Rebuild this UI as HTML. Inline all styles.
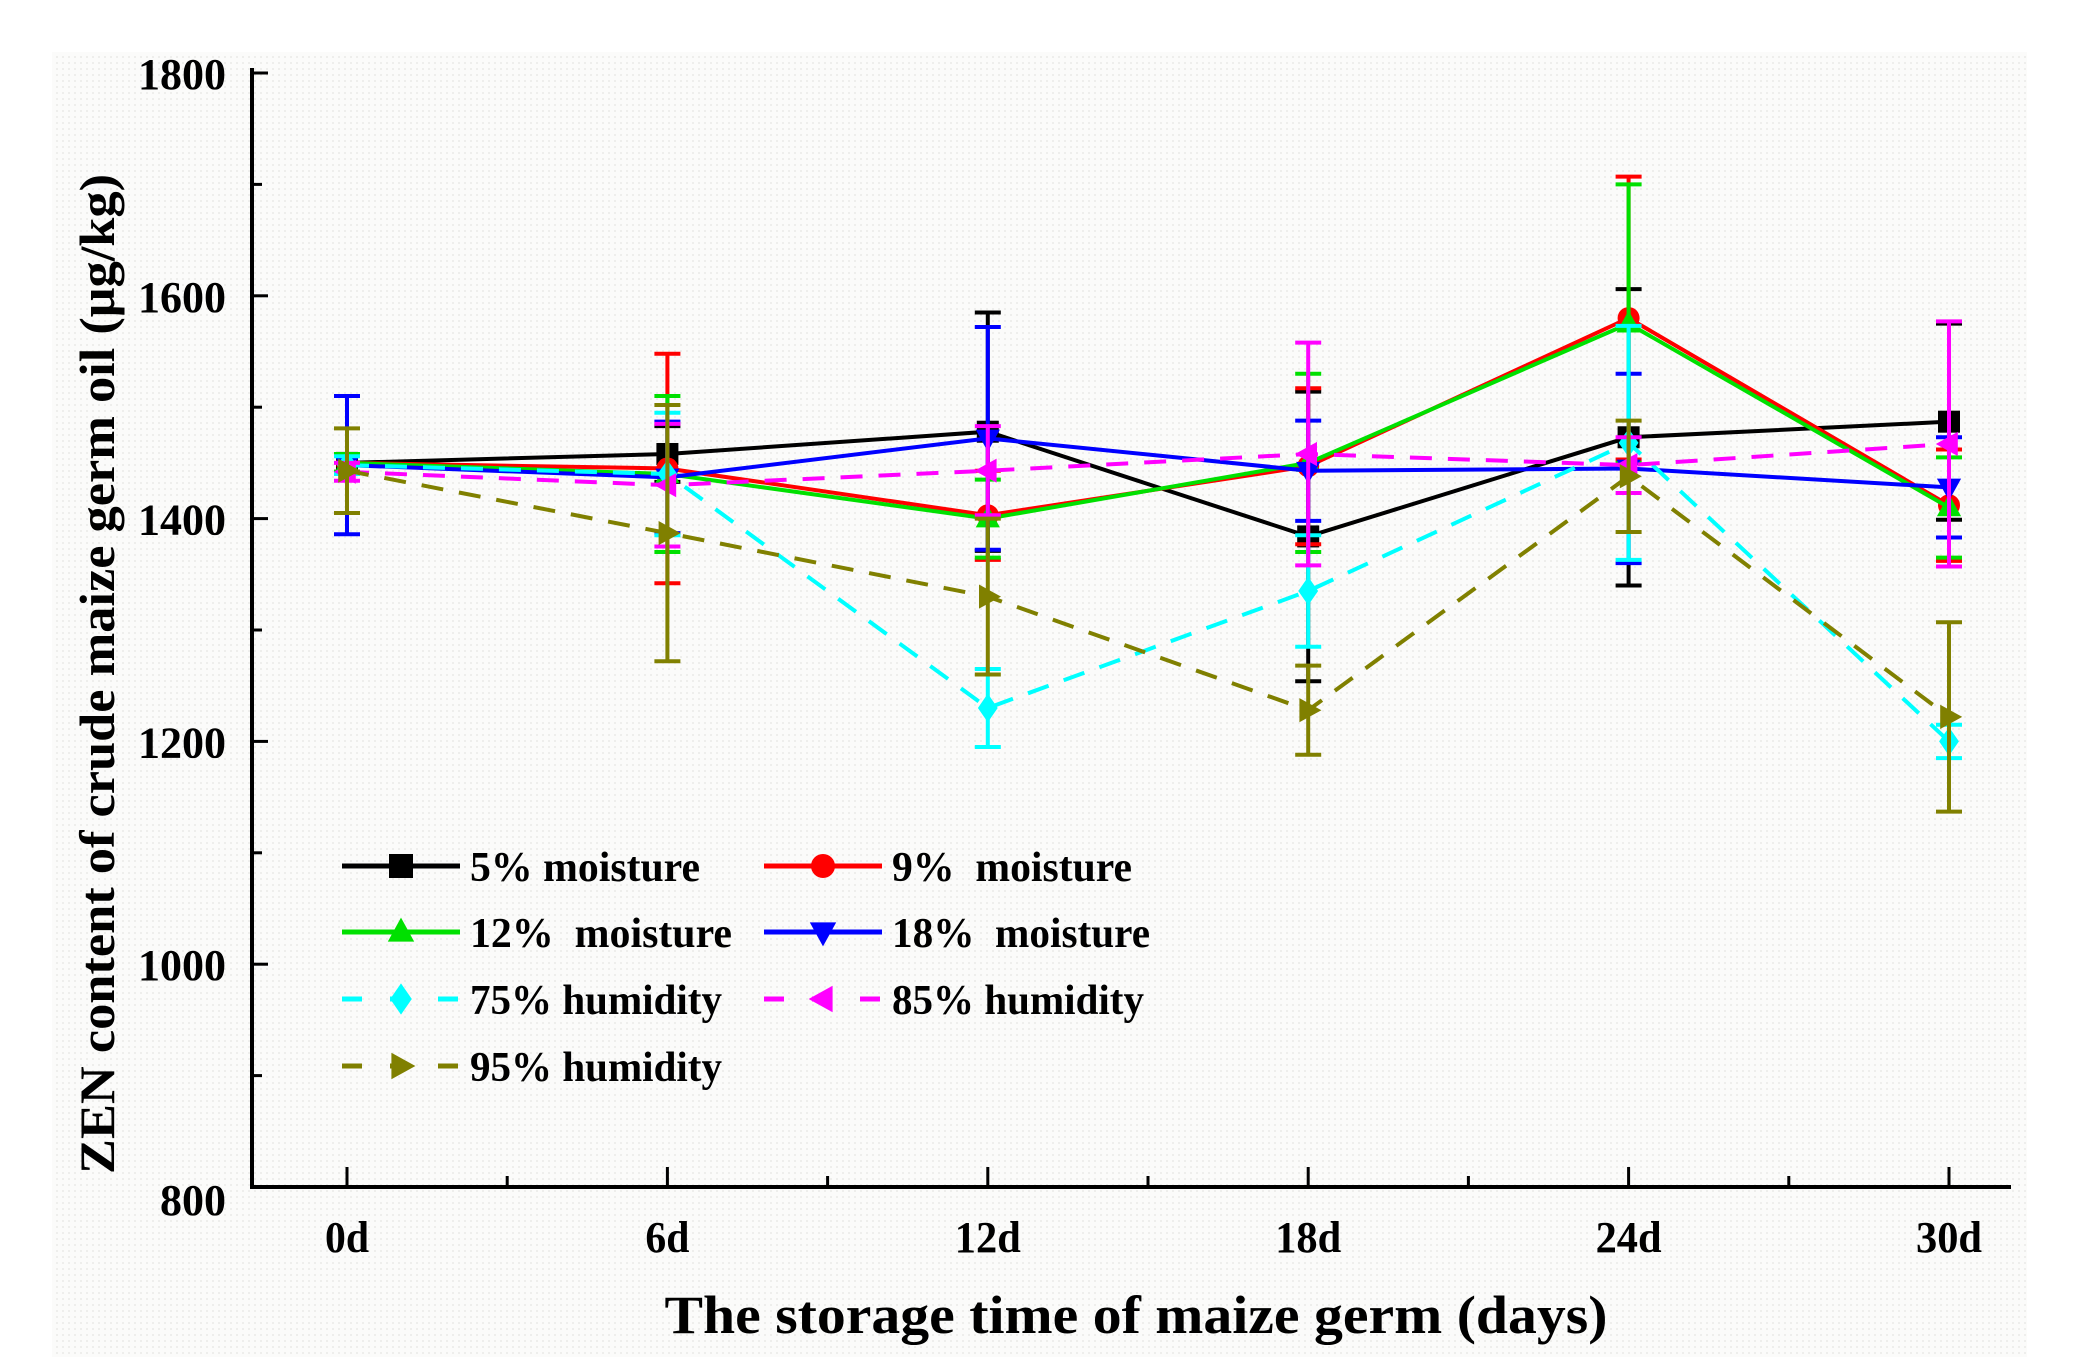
<!DOCTYPE html>
<html><head><meta charset="utf-8">
<style>
html,body{margin:0;padding:0;background:#fff;}
svg{display:block;}
text{font-family:"Liberation Serif",serif;font-weight:bold;fill:#000;}
</style></head>
<body>
<svg id="chart" width="2073" height="1368" viewBox="0 0 2073 1368" xmlns="http://www.w3.org/2000/svg">
<defs>
<pattern id="dots" width="6" height="6" patternUnits="userSpaceOnUse">
<rect width="6" height="6" fill="#fbfbfa"/><circle cx="3" cy="3" r="0.9" fill="#e6e6e3"/>
</pattern>
</defs>
<rect x="52" y="52" width="1975" height="1305" fill="url(#dots)"/>
<g id="axes"></g>
<g id="series"></g>
<g id="legend"></g>
<text transform="translate(114,674) rotate(-90)" text-anchor="middle" font-size="50" textLength="1000" lengthAdjust="spacingAndGlyphs">ZEN content of crude maize germ oil (μg/kg)</text>
<text x="1136" y="1333" text-anchor="middle" font-size="54" textLength="943" lengthAdjust="spacingAndGlyphs">The storage time of maize germ (days)</text>
</svg>
<script>
const categories = ["0d","6d","12d","18d","24d","30d"];
const yTicks = [800,1000,1200,1400,1600,1800];
const seriesNames = ["5% moisture","9%  moisture","12%  moisture","18%  moisture","75% humidity","85% humidity","95% humidity"];
const s5 = [1450,1458,1478,1384,1473,1487];
const e5 = [8,25,107,130,133,88];
const s9 = [1450,1445,1403,1447,1580,1412];
const e9 = [8,103,40,70,127,50];
const s12 = [1450,1440,1400,1450,1575,1410];
const e12 = [8,70,35,80,125,45];
const s18 = [1448,1437,1472,1443,1445,1428];
const e18 = [62,50,100,45,85,45];
const s75 = [1448,1440,1230,1335,1468,1200];
const e75 = [8,55,35,50,105,15];
const s85 = [1442,1430,1443,1458,1448,1467];
const e85 = [8,55,40,100,25,110];
const s95 = [1443,1387,1330,1228,1438,1222];
const e95 = [38,115,70,40,50,85];

const NS="http://www.w3.org/2000/svg";
const X0=347, DX=320.4, Y0=1187, YTOP=73;
const xS=i=>X0+i*DX;
const yS=v=>Y0-(v-800)/1000*(Y0-YTOP);
function mk(tag,attrs,parent){const e=document.createElementNS(NS,tag);for(const k in attrs)e.setAttribute(k,attrs[k]);parent.appendChild(e);return e;}
const axes=document.getElementById('axes');
const ax=mk('path',{d:`M252,${YTOP-5} L252,${Y0} L2011,${Y0}`,fill:'none',stroke:'#000','stroke-width':4},axes);


yTicks.forEach(v=>{
  const y=yS(v);
  const t=mk('line',{x1:252,x2:268,y1:y,y2:y,stroke:'#000','stroke-width':3},axes);
  
  
  const str=String(v);
  const l=mk('text',{x:226,y:y+16+(v===800?12:0),'text-anchor':'end','font-size':44,textLength:str.length*22,lengthAdjust:'spacingAndGlyphs'},axes);l.textContent=str;
  
  
  if(v<1800){const ym=yS(v+100);const m=mk('line',{x1:252,x2:262,y1:ym,y2:ym,stroke:'#000','stroke-width':3},axes);
  
  }
});
categories.forEach((c,i)=>{
  const x=xS(i);
  const t=mk('line',{x1:x,x2:x,y1:Y0,y2:Y0-20,stroke:'#000','stroke-width':3},axes);
  
  
  const l=mk('text',{x:x,y:1252,'text-anchor':'middle','font-size':44,textLength:c.length*22,lengthAdjust:'spacingAndGlyphs'},axes);l.textContent=c;
  
  
  if(i<categories.length-1){const xm=x+DX/2;const m=mk('line',{x1:xm,x2:xm,y1:Y0,y2:Y0-11,stroke:'#000','stroke-width':3},axes);
  
  }
});
const colors=["#000000","#ff0000","#00e000","#0000ff","#00ffff","#ff00ff","#808000"];
const dashed=[false,false,false,false,true,true,true];
const markers=["square","circle","up","down","diamond","left","right"];
const vals=[s5,s9,s12,s18,s75,s85,s95];
const errs=[e5,e9,e12,e18,e75,e85,e95];
function marker(type,x,y,c,g,r){
  let e;
  if(type==="square")e=mk('rect',{x:x-r,y:y-r,width:2*r,height:2*r,fill:c},g);
  else if(type==="circle")e=mk('circle',{cx:x,cy:y,r:r,fill:c},g);
  else{let p;
    if(type==="up")p=[[x,y-r*1.2],[x-r*1.1,y+r*0.8],[x+r*1.1,y+r*0.8]];
    if(type==="down")p=[[x,y+r*1.2],[x-r*1.1,y-r*0.8],[x+r*1.1,y-r*0.8]];
    if(type==="diamond")p=[[x,y-r*1.3],[x+r*0.9,y],[x,y+r*1.3],[x-r*0.9,y]];
    if(type==="left")p=[[x-r*1.2,y],[x+r*0.8,y-r*1.1],[x+r*0.8,y+r*1.1]];
    if(type==="right")p=[[x+r*1.2,y],[x-r*0.8,y-r*1.1],[x-r*0.8,y+r*1.1]];
    e=mk('polygon',{points:p.map(q=>q.join(',')).join(' '),fill:c},g);}
  return e;
}
const sg=document.getElementById('series');
vals.forEach((v,s)=>{
  const g=mk('g',{},sg);
  
  
  v.forEach((val,i)=>{
    const x=xS(i),e=errs[s][i];
    const eb=mk('path',{d:`M${x},${yS(val+e)} L${x},${yS(val-e)} M${x-13},${yS(val+e)} L${x+13},${yS(val+e)} M${x-13},${yS(val-e)} L${x+13},${yS(val-e)}`,stroke:colors[s],'stroke-width':4,fill:'none'},g);
    
    
  });
  const pl=mk('polyline',{points:v.map((val,i)=>xS(i)+','+yS(val)).join(' '),fill:'none',stroke:colors[s],'stroke-width':4},g);
  if(dashed[s])pl.setAttribute('stroke-dasharray','22,16');
  
  
  v.forEach((val,i)=>{
    const m=marker(markers[s],xS(i),yS(val),colors[s],g,11);
    
    
  });
});
const lg=document.getElementById('legend');
const lx=[342,764], ly=[866,932,999,1066];
const legendLen=[230,240,262,258,252,252,252];
seriesNames.forEach((n,s)=>{
  const col=s%2,row=Math.floor(s/2);
  const x=lx[col],y=ly[row];
  const g=mk('g',{},lg);
  
  
  const ln=mk('line',{x1:x,x2:x+118,y1:y,y2:y,stroke:colors[s],'stroke-width':5},g);
  if(dashed[s])ln.setAttribute('stroke-dasharray','20,28');
  marker(markers[s],x+59,y,colors[s],g,12);
  const t=mk('text',{x:x+128,y:y+15,'font-size':42,textLength:legendLen[s],lengthAdjust:'spacingAndGlyphs'},g);t.textContent=n;
  t.style.whiteSpace='pre';
});
</script>
</body></html>
